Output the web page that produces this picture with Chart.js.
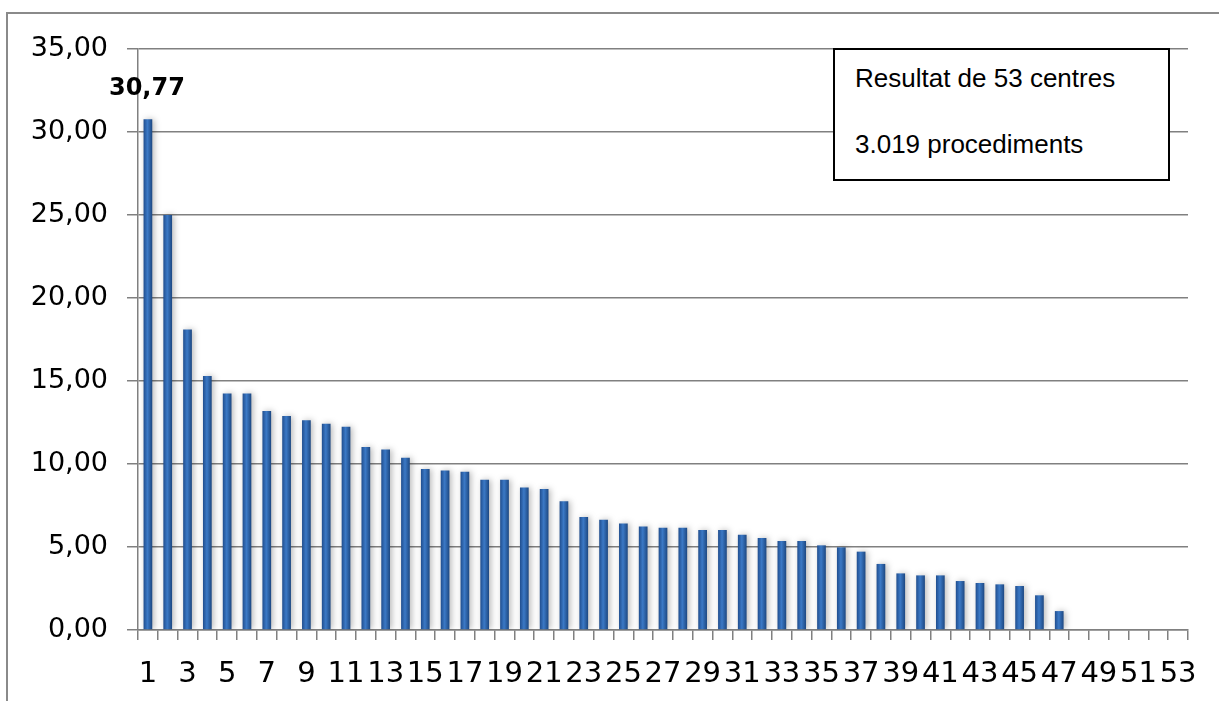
<!DOCTYPE html>
<html>
<head>
<meta charset="utf-8">
<script src="https://cdn.jsdelivr.net/npm/chart.js@4/dist/chart.umd.min.js"></script>
<style>
  html, body { margin: 0; padding: 0; background: #fff; }
  #wrap { position: relative; width: 1219px; height: 701px; overflow: hidden; }
  #marc { position: absolute; left: 6px; top: 12px; width: 1300px; height: 800px;
          border-top: 2px solid #8a8a8a; border-left: 2px solid #8a8a8a; }
  #grafic { position: absolute; left: 0; top: 0; }
  #nota { position: absolute; left: 833px; top: 48px; width: 333px; height: 129px;
          border: 2px solid #000; background: #fff; font-family: "Liberation Sans"; font-size: 26px;
          line-height: 1; color: #000; }
  #nota div { position: absolute; left: 20px; white-space: nowrap; }
</style>
</head>
<body>
<div id="wrap">
  <div id="marc"></div>
  <canvas id="grafic" width="1219" height="701"></canvas>
  <div id="nota">
    <div style="top:15px">Resultat de 53 centres</div>
    <div style="top:81px">3.019 procediments</div>
  </div>
</div>
<script>
// centres 1..53, percentatge per centre (ordenat de major a menor)
const centres = Array.from({ length: 53 }, (_, i) => String(i + 1));
const valors = [
  30.77, 25.00, 18.10, 15.30, 14.25, 14.25, 13.19, 12.89, 12.63, 12.43,
  12.25, 11.03, 10.87, 10.37, 9.70, 9.61, 9.53, 9.05, 9.05, 8.59,
  8.49, 7.75, 6.81, 6.64, 6.42, 6.24, 6.16, 6.16, 6.02, 6.02,
  5.74, 5.54, 5.36, 5.36, 5.10, 4.98, 4.72, 3.98, 3.41, 3.29,
  3.29, 2.95, 2.83, 2.75, 2.65, 2.09, 1.14, 0, 0, 0,
  0, 0, 0,
];
const etiquetaDestacada = 0; // només es mostra el valor del primer centre
const yMin = 0, yMax = 35, yPas = 5;

const GRIS = "#808080";
const fmt = (v) => v.toFixed(2).replace(".", ",");

Chart.defaults.font.family = "DejaVu Sans";
Chart.defaults.color = "#000";

// ombra suau darrere les barres
const ombra = {
  id: "ombra",
  beforeDatasetsDraw(chart) {
    const c = chart.ctx;
    c.save();
    c.shadowColor = "rgba(0,0,0,0.28)";
    c.shadowBlur = 6;
    c.shadowOffsetX = 2;
  },
  afterDatasetsDraw(chart) {
    chart.ctx.restore();
  },
};

// valor en negreta damunt de la primera barra
const etiqueta = {
  id: "etiqueta",
  afterDatasetsDraw(chart) {
    const el = chart.getDatasetMeta(0).data[etiquetaDestacada];
    const c = chart.ctx;
    c.save();
    c.font = "bold 24px 'DejaVu Sans'";
    c.fillStyle = "#000";
    c.textAlign = "center";
    c.textBaseline = "middle";
    c.fillText(fmt(valors[etiquetaDestacada]), el.x - 1, el.y - 30);
    c.restore();
  },
};

function colorBarra(ctx) {
  const x = ctx.chart.scales.x;
  const px = x && ctx.type === "data" ? x.getPixelForValue(ctx.dataIndex) : NaN;
  if (!isFinite(px)) return "#2d66b0";
  const g = ctx.chart.ctx.createLinearGradient(px - 4.5, 0, px + 4.5, 0);
  g.addColorStop(0, "#1f4c8c");
  g.addColorStop(0.45, "#3b79c6");
  g.addColorStop(1, "#1c467f");
  return g;
}

new Chart(document.getElementById("grafic"), {
  type: "bar",
  data: {
    labels: centres,
    datasets: [{ data: valors, backgroundColor: colorBarra, borderWidth: 0,
                 barPercentage: 0.44, categoryPercentage: 1 }],
  },
  options: {
    responsive: false,
    animation: false,
    layout: { padding: { left: 0, top: 49, right: 31, bottom: 0 } },
    plugins: { legend: { display: false }, tooltip: { enabled: false } },
    scales: {
      x: {
        offset: true,
        grid: { offset: true, drawOnChartArea: false, color: GRIS, tickLength: 10, lineWidth: 1.5 },
        border: { color: GRIS, width: 1.5 },
        ticks: {
          autoSkip: false, maxRotation: 0, padding: 17,
          font: { size: 29 },
          callback: (v, i) => (i % 2 === 0 ? centres[i] : ""),
        },
        afterFit: (s) => { s.height = 71; },
      },
      y: {
        min: yMin, max: yMax,
        grid: { color: GRIS, tickLength: 11, lineWidth: 1.5 },
        border: { color: GRIS, width: 1.5 },
        ticks: { stepSize: yPas, padding: 19, font: { size: 27 }, callback: (v) => fmt(v) },
        afterFit: (s) => { s.width = 138; },
      },
    },
  },
  plugins: [ombra, etiqueta],
});
</script>
</body>
</html>
